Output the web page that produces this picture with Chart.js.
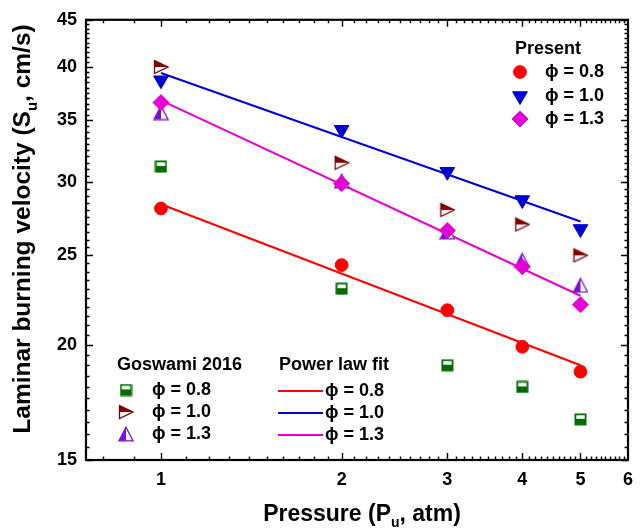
<!DOCTYPE html>
<html>
<head>
<meta charset="utf-8">
<script src="https://cdn.jsdelivr.net/npm/chart.js@4/dist/chart.umd.min.js"></script>
<style>
  html, body { margin: 0; padding: 0; background: #fff; }
  canvas { display: block; }
</style>
</head>
<body>
<canvas id="chart" width="642" height="530"></canvas>
<script>
/* Laminar burning velocity vs pressure, log-log, with power law fits */

const pressure = [1, 2, 3, 4, 5];

// present measurements
const presentPhi08 = [28.1, 24.4, 21.8, 19.9, 18.7];
const presentPhi10 = [38.7, 34.2, 30.8, 28.7, 26.7];
const presentPhi13 = [36.6, 29.9, 26.6, 24.3, 22.1];

// Goswami 2016
const goswamiPhi08 = [31.2, 23.0, 19.0, 18.0, 16.6];
const goswamiPhi10 = [40.0, 31.5, 28.0, 27.0, 25.0];
const goswamiPhi13 = [35.7, 30.1, 26.5, 24.7, 23.2];

// power law fit end points (straight on log-log)
const fitPressure = [1, 5];
const fitPhi08 = [28.4, 19.0];
const fitPhi10 = [39.4, 27.2];
const fitPhi13 = [36.8, 22.6];

const xTickValues = [1, 2, 3, 4, 5, 6];
const yTickValues = [15, 20, 25, 30, 35, 40, 45];

const FONT = '"Liberation Sans", Arial, Helvetica, sans-serif';
const RED = "#ff0000", BLUE = "#0000d0", MAGENTA = "#e400d4";
const BROWN = "#800000", VIOLET = "#7a10d0", GREEN = "#006c00";
const PHI = "\u03D5";

function pts(xs, ys) {
  return xs.map((x, i) => ({ x, y: ys[i] }));
}

function markerCanvas(w, h, draw) {
  const c = document.createElement("canvas");
  c.width = w; c.height = h;
  draw(c.getContext("2d"));
  return c;
}

// half-filled markers used for the Goswami data
const squareHalf = markerCanvas(13, 13, (g) => {
  g.fillStyle = GREEN;
  g.fillRect(0.5, 0.5, 12, 12);
  g.fillStyle = "#fff";
  g.fillRect(2.3, 2.3, 8.4, 3.6);
});

const triRightHalf = markerCanvas(16, 16, (g) => {
  const path = () => {
    g.beginPath();
    g.moveTo(1.5, 1.5); g.lineTo(14.8, 8); g.lineTo(1.5, 14.5); g.closePath();
  };
  path(); g.fillStyle = "#fff"; g.fill();
  g.beginPath();
  g.moveTo(1.5, 1.5); g.lineTo(14.8, 8); g.lineTo(1.5, 8); g.closePath();
  g.fillStyle = BROWN; g.fill();
  path(); g.strokeStyle = BROWN; g.lineWidth = 1.3; g.stroke();
});

const triUpHalf = markerCanvas(16, 16, (g) => {
  const path = () => {
    g.beginPath();
    g.moveTo(8, 1.2); g.lineTo(15, 14.8); g.lineTo(1, 14.8); g.closePath();
  };
  path(); g.fillStyle = "#fff"; g.fill();
  g.beginPath();
  g.moveTo(8, 1.2); g.lineTo(8, 14.8); g.lineTo(1, 14.8); g.closePath();
  g.fillStyle = VIOLET; g.fill();
  path(); g.strokeStyle = VIOLET; g.lineWidth = 1.3; g.stroke();
});

const MARKERS = {
  p08: { pointStyle: "circle", radius: 6.4, color: RED, rotation: 0 },
  p10: { pointStyle: "triangle", radius: 8.5, color: BLUE, rotation: 180 },
  p13: { pointStyle: "rectRot", radius: 8, color: MAGENTA, rotation: 0 },
  g08: { pointStyle: squareHalf, radius: 6.5, color: GREEN, rotation: 0 },
  g10: { pointStyle: triRightHalf, radius: 8, color: BROWN, rotation: 0 },
  g13: { pointStyle: triUpHalf, radius: 8, color: VIOLET, rotation: 0 },
};

function markerSet(label, data, m) {
  return {
    type: "scatter", label, data,
    pointStyle: m.pointStyle, pointRadius: m.radius, pointHoverRadius: m.radius,
    pointRotation: m.rotation,
    backgroundColor: m.color, borderColor: m.color, borderWidth: 1,
    showLine: false,
  };
}

function fitSet(label, data, color) {
  return {
    type: "line", label, data, borderColor: color, borderWidth: 2,
    pointRadius: 0, fill: false, tension: 0,
  };
}

function drawRich(ctx, parts, cx, baseline, size) {
  const sub = Math.round(size * 0.62);
  const fontOf = (p) => `bold ${p.sub ? sub : size}px ${FONT}`;
  let total = 0;
  for (const p of parts) { ctx.font = fontOf(p); total += ctx.measureText(p.t).width; }
  let x = cx - total / 2;
  ctx.textAlign = "left";
  ctx.textBaseline = "alphabetic";
  for (const p of parts) {
    ctx.font = fontOf(p);
    ctx.fillText(p.t, x, baseline + (p.sub ? size * 0.28 : 0));
    x += ctx.measureText(p.t).width;
  }
}

// inward ticks on all four sides plus the box
const frameTicks = {
  id: "frameTicks",
  afterDatasetsDraw(chart) {
    const { ctx, chartArea: a, scales: { x, y } } = chart;
    ctx.save();
    ctx.strokeStyle = "#000";
    ctx.lineWidth = 1.4;
    const majorLen = 7, minorLen = 3.5;

    const xMarks = [];
    for (let i = 8; i < 60; i++) {
      xMarks.push([i / 10, i % 10 === 0 ? majorLen : minorLen]);
    }
    const yMarks = [];
    for (let i = 30; i <= 90; i++) {
      yMarks.push([i / 2, i % 10 === 0 ? majorLen : minorLen]);
    }
    ctx.beginPath();
    for (const [v, len] of xMarks) {
      const px = Math.round(x.getPixelForValue(v)) + 0.5;
      ctx.moveTo(px, a.bottom); ctx.lineTo(px, a.bottom - len);
      ctx.moveTo(px, a.top); ctx.lineTo(px, a.top + len);
    }
    for (const [v, len] of yMarks) {
      const py = Math.round(y.getPixelForValue(v)) + 0.5;
      ctx.moveTo(a.left, py); ctx.lineTo(a.left + len, py);
      ctx.moveTo(a.right, py); ctx.lineTo(a.right - len, py);
    }
    ctx.stroke();

    ctx.lineWidth = 2.2;
    ctx.strokeRect(a.left, a.top, a.right - a.left, a.bottom - a.top);
    ctx.restore();
  },
  afterDraw(chart) {
    const ctx = chart.ctx;
    ctx.save();
    ctx.fillStyle = "#000";

    drawRich(ctx, [{ t: "Pressure (P" }, { t: "u", sub: true }, { t: ", atm)" }], 362, 521, 23);

    ctx.translate(30, 229);
    ctx.rotate(-Math.PI / 2);
    drawRich(ctx, [{ t: "Laminar burning velocity (S" }, { t: "u", sub: true }, { t: ", cm/s)" }], 0, 0, 24.5);
    ctx.restore();

    drawLegends(chart);
  },
};

function legendMarker(ctx, m, x, y) {
  ctx.save();
  ctx.fillStyle = m.color;
  ctx.strokeStyle = m.color;
  ctx.lineWidth = 1;
  Chart.helpers.drawPoint(ctx, { pointStyle: m.pointStyle, radius: m.radius, rotation: m.rotation, borderWidth: 1 }, x, y);
  ctx.restore();
}

function drawLegends(chart) {
  const ctx = chart.ctx;
  const labels = [PHI + " = 0.8", PHI + " = 1.0", PHI + " = 1.3"];
  ctx.save();
  ctx.fillStyle = "#000";
  ctx.font = `bold 18px ${FONT}`;
  ctx.textAlign = "left";
  ctx.textBaseline = "middle";

  // Present
  ctx.fillText("Present", 515, 49);
  [MARKERS.p08, MARKERS.p10, MARKERS.p13].forEach((m, i) => {
    const yy = [72, 96, 119][i];
    legendMarker(ctx, m, 520, yy);
    ctx.fillStyle = "#000";
    ctx.fillText(labels[i], 545, yy);
  });

  // Goswami 2016
  ctx.fillText("Goswami 2016", 117, 365);
  [MARKERS.g08, MARKERS.g10, MARKERS.g13].forEach((m, i) => {
    const yy = [390, 412, 434][i];
    legendMarker(ctx, m, 126, yy);
    ctx.fillStyle = "#000";
    ctx.fillText(labels[i], 152, yy);
  });

  // Power law fit
  ctx.fillText("Power law fit", 279, 365);
  [RED, BLUE, MAGENTA].forEach((c, i) => {
    const yy = [391, 413, 435][i];
    ctx.strokeStyle = c;
    ctx.lineWidth = 2;
    ctx.beginPath();
    ctx.moveTo(278, yy); ctx.lineTo(323, yy);
    ctx.stroke();
    ctx.fillText(labels[i], 325, yy);
  });
  ctx.restore();
}

const tickFont = { family: FONT, size: 18, weight: "bold" };

new Chart(document.getElementById("chart"), {
  data: {
    datasets: [
      markerSet("Present \u03C6 = 0.8", pts(pressure, presentPhi08), MARKERS.p08),
      markerSet("Present \u03C6 = 1.0", pts(pressure, presentPhi10), MARKERS.p10),
      markerSet("Present \u03C6 = 1.3", pts(pressure, presentPhi13), MARKERS.p13),
      markerSet("Goswami 2016 \u03C6 = 1.0", pts(pressure, goswamiPhi10), MARKERS.g10),
      markerSet("Goswami 2016 \u03C6 = 1.3", pts(pressure, goswamiPhi13), MARKERS.g13),
      markerSet("Goswami 2016 \u03C6 = 0.8", pts(pressure, goswamiPhi08), MARKERS.g08),
      fitSet("Power law fit \u03C6 = 0.8", pts(fitPressure, fitPhi08), RED),
      fitSet("Power law fit \u03C6 = 1.0", pts(fitPressure, fitPhi10), BLUE),
      fitSet("Power law fit \u03C6 = 1.3", pts(fitPressure, fitPhi13), MAGENTA),
    ],
  },
  options: {
    responsive: false,
    animation: false,
    events: [],
    layout: { padding: { top: 15, right: 6, bottom: 0, left: 0 } },
    plugins: { legend: { display: false }, tooltip: { enabled: false } },
    scales: {
      x: {
        type: "logarithmic", min: 0.75, max: 6,
        grid: { display: false, drawTicks: false },
        border: { display: false },
        afterBuildTicks: (s) => { s.ticks = xTickValues.map((v) => ({ value: v })); },
        afterFit: (s) => { s.height = 70; },
        ticks: { color: "#000", font: tickFont, padding: 9, autoSkip: false, maxRotation: 0, callback: (v) => String(v) },
      },
      y: {
        type: "logarithmic", min: 15, max: 45,
        grid: { display: false, drawTicks: false },
        border: { display: false },
        afterBuildTicks: (s) => { s.ticks = yTickValues.map((v) => ({ value: v })); },
        afterFit: (s) => { s.width = 86; },
        ticks: { color: "#000", font: tickFont, padding: 9, autoSkip: false, callback: (v) => String(v) },
      },
    },
  },
  plugins: [frameTicks],
});
</script>
</body>
</html>
